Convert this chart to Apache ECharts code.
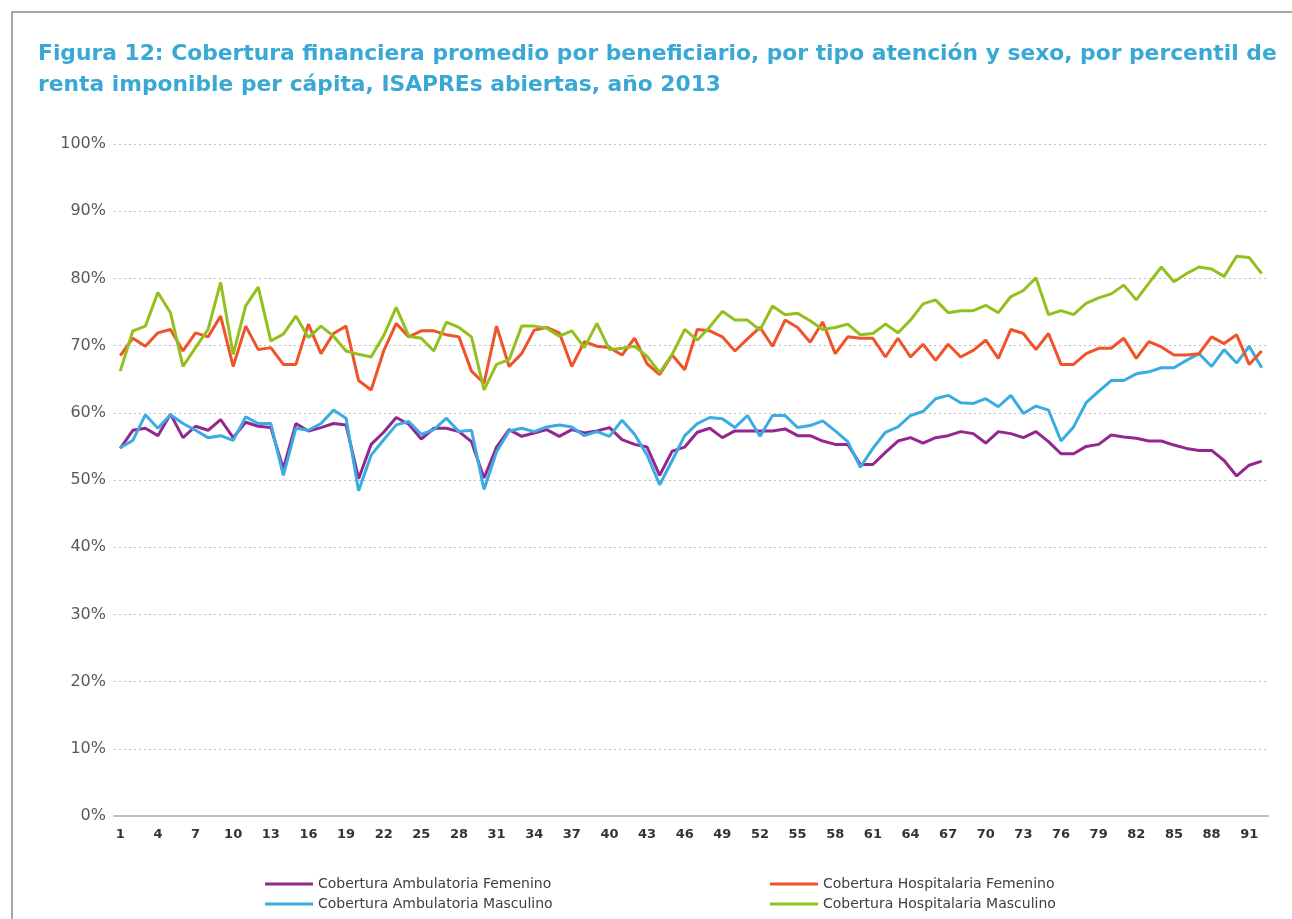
<!DOCTYPE html>
<html>
<head>
<meta charset="utf-8">
<script src="https://cdn.jsdelivr.net/npm/echarts@6/dist/echarts.min.js"></script>
<style>
  html, body { margin: 0; padding: 0; background: #fff; }
  #frame { position: absolute; left: 11px; top: 11px; width: 1281px; height: 908px;
           border-top: 2px solid #a6a6a6; border-left: 2px solid #a6a6a6; }
  #chart { position: absolute; left: 0; top: 0; width: 1292px; height: 919px; }
</style>
</head>
<body>
<div id="frame"></div>
<div id="chart"></div>
<script>
// percentiles 1..92
var percentiles = [];
for (var p = 1; p <= 92; p++) percentiles.push(String(p));

var ambFem = [54.7, 57.4, 57.7, 56.6, 59.8, 56.3, 58.0, 57.4, 59.0, 56.3,
  58.6, 58.0, 57.8, 51.7, 58.4, 57.3, 57.8, 58.4, 58.2, 50.2,
  55.3, 57.1, 59.3, 58.3, 56.1, 57.7, 57.7, 57.2, 55.7, 50.3,
  54.9, 57.5, 56.5, 57.0, 57.5, 56.5, 57.5, 57.0, 57.3, 57.8,
  56.0, 55.3, 54.9, 50.7, 54.3, 54.9, 57.1, 57.7, 56.3, 57.3,
  57.3, 57.3, 57.3, 57.6, 56.6, 56.6, 55.8, 55.3, 55.3, 52.3,
  52.3, 54.1, 55.8, 56.3, 55.5, 56.3, 56.6, 57.2, 56.9, 55.5,
  57.2, 56.9, 56.3, 57.2, 55.7, 53.9, 53.9, 55.0, 55.3, 56.7,
  56.4, 56.2, 55.8, 55.8, 55.2, 54.7, 54.4, 54.4, 52.9, 50.6,
  52.2, 52.8];

var ambMasc = [54.8, 55.9, 59.7, 57.7, 59.7, 58.4, 57.4, 56.3, 56.6, 55.9,
  59.4, 58.4, 58.4, 50.7, 57.7, 57.4, 58.4, 60.4, 59.2, 48.4,
  53.7, 56.0, 58.2, 58.7, 56.8, 57.5, 59.2, 57.2, 57.4, 48.6,
  54.2, 57.3, 57.7, 57.2, 57.9, 58.2, 57.9, 56.6, 57.2, 56.5,
  58.9, 56.8, 53.7, 49.3, 52.9, 56.6, 58.4, 59.3, 59.1, 57.8,
  59.6, 56.5, 59.6, 59.6, 57.8, 58.1, 58.8, 57.3, 55.7, 51.9,
  54.7, 57.1, 57.9, 59.6, 60.2, 62.1, 62.6, 61.5, 61.4, 62.1,
  60.9, 62.6, 59.9, 61.0, 60.4, 55.8, 57.9, 61.5, 63.2, 64.8,
  64.8, 65.8, 66.1, 66.7, 66.7, 67.8, 68.8, 66.9, 69.4, 67.4,
  69.9, 66.7];

var hospFem = [68.5, 71.1, 69.9, 71.9, 72.4, 69.2, 71.9, 71.3, 74.4, 66.9,
  72.9, 69.4, 69.7, 67.2, 67.2, 73.2, 68.8, 71.8, 72.9, 64.8,
  63.4, 69.2, 73.3, 71.3, 72.2, 72.2, 71.6, 71.3, 66.2, 64.4,
  72.9, 66.9, 68.8, 72.3, 72.7, 71.9, 66.9, 70.6, 69.9, 69.7,
  68.6, 71.1, 67.3, 65.7, 68.6, 66.4, 72.4, 72.2, 71.3, 69.2,
  71.0, 72.7, 69.9, 73.8, 72.7, 70.5, 73.5, 68.8, 71.3, 71.1,
  71.1, 68.3, 71.1, 68.3, 70.2, 67.8, 70.2, 68.3, 69.3, 70.8,
  68.1, 72.4, 71.8, 69.4, 71.8, 67.2, 67.2, 68.8, 69.6, 69.6,
  71.1, 68.1, 70.6, 69.8, 68.6, 68.6, 68.8, 71.3, 70.3, 71.6,
  67.2, 69.2];

var hospMasc = [66.2, 72.2, 72.9, 77.9, 74.9, 66.9, 69.7, 72.4, 79.4, 68.7,
  75.9, 78.7, 70.7, 71.7, 74.4, 71.2, 72.9, 71.4, 69.2, 68.7,
  68.3, 71.5, 75.7, 71.4, 71.1, 69.2, 73.5, 72.7, 71.3, 63.4,
  67.2, 67.9, 72.9, 72.9, 72.6, 71.4, 72.2, 69.7, 73.3, 69.4,
  69.6, 69.9, 68.4, 66.0, 68.7, 72.4, 70.8, 72.8, 75.1, 73.8,
  73.8, 72.3, 75.9, 74.6, 74.8, 73.7, 72.4, 72.7, 73.2, 71.6,
  71.8, 73.2, 71.9, 73.8, 76.2, 76.8, 74.9, 75.2, 75.2, 76.0,
  74.9, 77.3, 78.2, 80.1, 74.6, 75.2, 74.6, 76.3, 77.1, 77.7,
  79.0, 76.8, 79.3, 81.7, 79.5, 80.7, 81.7, 81.4, 80.3, 83.3,
  83.1, 80.7];

var seriesNames = [
  'Cobertura Ambulatoria Femenino',
  'Cobertura Ambulatoria Masculino',
  'Cobertura Hospitalaria Femenino',
  'Cobertura Hospitalaria Masculino'
];
var seriesColors = ['#93278f', '#3aace2', '#f0522a', '#93c01f'];
var seriesData = [ambFem, ambMasc, hospFem, hospMasc];

var chartDom = document.getElementById('chart');
var myChart = echarts.init(chartDom, null, { renderer: 'canvas' });

var legendText = { fontFamily: 'DejaVu Sans', fontSize: 14, color: '#404040' };

var option = {
  animation: false,
  backgroundColor: 'transparent',
  title: {
    text: 'Figura 12: Cobertura financiera promedio por beneficiario, por tipo atención y sexo, por percentil de\nrenta imponible per cápita, ISAPREs abiertas, año 2013',
    left: 33,
    top: 34,
    textStyle: {
      fontFamily: 'DejaVu Sans',
      fontWeight: 'bold',
      fontSize: 21.8,
      lineHeight: 31,
      color: '#3aa8d4'
    }
  },
  legend: [
    {
      data: [seriesNames[0], seriesNames[1]],
      orient: 'vertical',
      left: 260,
      top: 872,
      itemWidth: 48,
      itemHeight: 3,
      itemGap: 6,
      icon: 'rect',
      textStyle: legendText
    },
    {
      data: [seriesNames[2], seriesNames[3]],
      orient: 'vertical',
      left: 765,
      top: 872,
      itemWidth: 48,
      itemHeight: 3,
      itemGap: 6,
      icon: 'rect',
      textStyle: legendText
    }
  ],
  grid: {
    left: 114,
    right: 24,
    top: 144,
    bottom: 103,
    containLabel: false
  },
  xAxis: {
    type: 'category',
    data: percentiles,
    boundaryGap: true,
    axisLine: { lineStyle: { color: '#bfbfbf', width: 2 } },
    axisTick: { show: false },
    axisLabel: {
      interval: 2,
      margin: 12,
      fontFamily: 'DejaVu Sans',
      fontWeight: 'bold',
      fontSize: 13,
      color: '#333333'
    },
    splitLine: { show: false }
  },
  yAxis: {
    type: 'value',
    min: 0,
    max: 100,
    interval: 10,
    axisLine: { show: false },
    axisTick: { show: false },
    axisLabel: {
      formatter: '{value}%',
      margin: 8,
      fontFamily: 'DejaVu Sans',
      fontSize: 16,
      color: '#595959'
    },
    splitLine: { lineStyle: { color: '#bfbfbf', type: [2, 3], width: 1 } }
  },
  series: seriesNames.map(function (name, i) {
    return {
      name: name,
      type: 'line',
      data: seriesData[i],
      symbol: 'none',
      color: seriesColors[i],
      lineStyle: { width: 3, color: seriesColors[i] }
    };
  })
};

myChart.setOption(option);
window.addEventListener('resize', myChart.resize);
</script>
</body>
</html>
